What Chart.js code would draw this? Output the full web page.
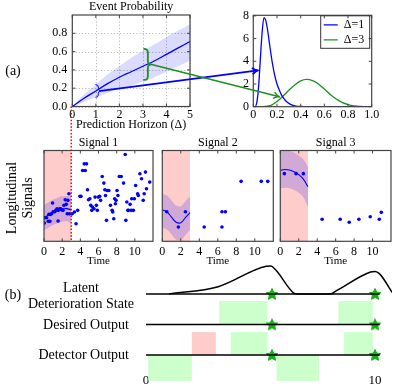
<!DOCTYPE html>
<html><head><meta charset="utf-8">
<script src="https://cdn.jsdelivr.net/npm/chart.js@4/dist/chart.umd.min.js"></script>
<style>
html,body{margin:0;padding:0;background:#fff;}
#wrap{position:relative;width:399px;height:389px;overflow:hidden;font-family:'Liberation Serif','DejaVu Serif',serif;color:#000;}
#wrap canvas{position:absolute;left:0;top:0;}
.lbl{position:absolute;white-space:nowrap;font-size:14px;line-height:15.5px;}
.c{transform:translate(-50%,-50%);text-align:center;}
.r{transform:translateY(-50%);text-align:right;}
</style></head><body>
<div id="wrap">
<canvas id="cA" width="399" height="389"></canvas>
<canvas id="cB" width="399" height="389"></canvas>
<canvas id="cS1" width="399" height="389"></canvas>
<canvas id="cS2" width="399" height="389"></canvas>
<canvas id="cS3" width="399" height="389"></canvas>
<canvas id="cT" width="399" height="389"></canvas>
<div class="lbl c" style="left:13px;top:71px;">(a)</div>
<div class="lbl c" style="left:13px;top:295px;">(b)</div>
<div class="lbl c" style="left:20px;top:198px;transform:translate(-50%,-50%) rotate(-90deg);line-height:16px;">Longitudinal<br>Signals</div>
<div class="lbl c" style="left:81px;top:295px;">Latent<br>Deterioration State</div>
<div class="lbl r" style="right:270px;top:325px;">Desired Output</div>
<div class="lbl r" style="right:270px;top:355px;">Detector Output</div>
</div>
<script>
// ---------- DATA ----------
// (a) event probability vs prediction horizon
const horizon      = [0, 0.5, 1, 1.5, 2, 2.5, 3, 3.5, 4, 4.5, 5];
const probMean     = [0, 0.09, 0.17, 0.25, 0.32, 0.38, 0.44, 0.50, 0.57, 0.64, 0.71];
const probUpper    = [0, 0.13, 0.24, 0.35, 0.44, 0.53, 0.61, 0.68, 0.76, 0.83, 0.90];
const probLower    = [0, 0.05, 0.10, 0.15, 0.19, 0.23, 0.27, 0.32, 0.38, 0.44, 0.50];
const horizonTicks = [0, 1, 2, 3, 4, 5];
const horizonTickLabels = ['0', '1', '2', '3', '4', '5'];
const probTicks    = [0, 0.2, 0.4, 0.6, 0.8];
const probTickLabels = ['0.0', '0.2', '0.4', '0.6', '0.8'];

// densities of event probability
const densX1 = [0, 0.015, 0.03, 0.045, 0.06, 0.075, 0.09, 0.105, 0.12, 0.14, 0.16, 0.18, 0.20, 0.22, 0.24, 0.26, 0.28, 0.30, 0.33, 0.36, 0.40, 0.45, 0.6, 1.0];
const densY1 = [0, 0, 0.4, 1.8, 4.3, 6.6, 7.85, 7.6, 6.8, 5.3, 3.9, 2.8, 2.0, 1.45, 1.0, 0.68, 0.45, 0.29, 0.14, 0.06, 0.02, 0, 0, 0];
const densX3 = [0, 0.05, 0.1, 0.15, 0.2, 0.25, 0.3, 0.35, 0.4, 0.45, 0.5, 0.55, 0.6, 0.65, 0.7, 0.75, 0.8, 0.85, 0.9, 0.95, 1.0];
const densY3 = [0, 0, 0.02, 0.12, 0.45, 0.92, 1.45, 1.92, 2.27, 2.4, 2.3, 2.0, 1.55, 1.08, 0.68, 0.38, 0.19, 0.08, 0.03, 0.01, 0];
const densLabels = ['\u0394=1', '\u0394=3'];
const densXTicks = [0, 0.2, 0.4, 0.6, 0.8, 1.0];
const densXTickLabels = ['0', '0.2', '0.4', '0.6', '0.8', '1.0'];
const densYTicks = [0, 2, 4, 6, 8];
const densYTickLabels = ['0', '2', '4', '6', '8'];

// braces and arrows linking the two plots
const braceHorizon = [1.0, 3.05];
const braceLow     = [0.10, 0.29];
const braceHigh    = [0.24, 0.63];
const arrowTargetX = [0.04, 0.22];
const arrowTargetY = [3.2, 0.88];

// longitudinal signals
const signalTitles = ['Signal 1', 'Signal 2', 'Signal 3'];
const timeTicks = [0, 2, 4, 6, 8, 10];
const timeTickLabels = ['0', '2', '4', '6', '8', '10'];
const observationWindow = [0, 3];
const s1Time  = [0.04,0.11,0.29,0.47,0.65,0.54,0.72,0.83,0.94,1.01,1.19,1.30,1.44,1.55,1.59,1.73,1.84,1.95,2.09,2.20,2.34,2.45,2.56,2.63,2.74,2.81,3.10,3.35,3.53,3.71,3.96,4.07,4.25,4.43,4.68,4.54,4.79,4.90,5.05,5.15,5.26,5.33,5.51,5.62,5.77,5.87,5.98,6.13,6.23,6.41,6.59,6.70,6.77,6.88,6.95,7.14,7.32,7.50,7.57,7.68,7.78,7.86,7.93,8.04,8.14,8.29,8.50,8.76,8.94,9.01,9.12,9.23,9.30,9.48,9.59,9.66,9.84,9.95,10.09,10.31,10.38,10.56,10.74,10.92,11.03,11.17,11.28,11.64];
const s1Value = [2.01,2.60,2.60,2.20,2.20,2.97,2.97,3.04,4.21,3.26,3.26,3.41,3.59,2.23,3.41,3.59,3.59,3.48,3.41,3.96,4.58,4.07,3.04,4.51,5.24,3.04,3.04,3.22,1.94,3.41,4.95,4.95,7.80,8.53,8.53,7.80,5.68,4.58,4.69,3.96,3.41,3.77,3.59,4.87,3.96,3.41,4.87,4.95,4.51,7.14,6.41,5.68,5.05,2.31,5.60,5.60,3.96,3.41,3.22,2.49,4.69,4.14,4.51,5.60,5.05,7.14,7.14,6.41,9.56,2.31,4.32,3.41,3.41,4.07,3.41,4.69,3.41,4.69,6.15,5.24,5.05,7.44,6.89,4.51,5.24,7.62,5.79,6.52];
const s2Time  = [0.48, 1.74, 2.5, 4.53, 6.45, 6.82, 6.45, 8.52, 10.7, 11.4];
const s2Value = [3.26, 1.58, 3.26, 1.58, 3.26, 3.26, 1.58, 6.6, 6.6, 6.6];
const s3Time  = [0.44, 1.7, 2.5, 4.53, 6.49, 7.47, 8.52, 9.75, 10.73, 10.95];
const s3Value = [7.45, 7.45, 7.45, 2.43, 2.43, 2.1, 2.43, 2.71, 2.43, 3.19];
const gpTime  = [0, 0.5, 1, 1.5, 2, 2.5, 3];
const s1Mean  = [2.6, 2.9, 3.2, 3.4, 3.55, 3.6, 3.45];
const s1Upper = [4.0, 4.3, 4.6, 4.8, 4.95, 5.0, 4.9];
const s1Lower = [1.2, 1.5, 1.8, 2.0, 2.15, 2.2, 2.0];
const s2Mean  = [3.45, 3.25, 2.65, 2.1, 2.05, 2.6, 3.15];
const s2Upper = [5.25, 5.05, 4.5, 3.95, 3.85, 4.4, 4.95];
const s2Lower = [1.5, 1.3, 0.75, 0.2, 0.15, 0.7, 1.25];
const s3Mean  = [7.8, 7.9, 7.85, 7.65, 7.35, 6.85, 6.0];
const s3Upper = [9.9, 10.0, 9.95, 9.75, 9.45, 9.0, 8.2];
const s3Lower = [5.8, 5.9, 5.85, 5.65, 5.35, 4.85, 3.8];

// (b) timeline
const timelineTicks = [0, 10];
const timelineTickLabels = ['0', '10'];
const timelineEnd = 10.2;
const latentTime  = [1.0, 3.15, 5.25, 5.45, 5.65, 6.45, 6.6, 8.05, 8.3, 9.8, 10.0, 10.2, 10.75];
const latentLevel = [0, 0.24, 0.91, 0.92, 0.8, 0.03, 0, 0, 0.1, 0.72, 0.74, 0.66, 0.05];
const eventTimes  = [5.5, 10.0];
const desiredAlarm   = [[3.2, 5.3], [8.4, 9.9]];
const detectorFalse  = [[2.0, 3.05]];
const detectorAlarm  = [[3.7, 5.3], [8.65, 9.9]];
const detectorQuiet  = [[0.1, 2.0], [5.7, 7.55]];

// ---------- HELPERS ----------
Chart.defaults.font.family = "'Liberation Serif','DejaVu Serif',serif";
Chart.defaults.color = '#000';
const pts = (xs, ys) => xs.map((x, i) => ({x, y: ys[i]}));
const BLUE = '#0000ff', GREEN = '#1f8f1f', FRAME = '#444';

const framePlugin = {
  id: 'frame',
  beforeDatasetsDraw(chart, args, o) {
    const {ctx, chartArea: a} = chart;
    const xs = chart.scales.x, ys = chart.scales.y;
    ctx.save();
    if (o.window) {
      const x0 = xs.getPixelForValue(o.window[0]), x1 = xs.getPixelForValue(o.window[1]);
      ctx.fillStyle = 'rgba(255,0,0,0.2)';
      ctx.fillRect(x0, a.top, x1 - x0, a.bottom - a.top);
    }
    if (o.grid) {
      ctx.strokeStyle = '#aaa'; ctx.lineWidth = 0.8; ctx.setLineDash([1.2, 2]);
      xs.ticks.forEach(t => { const p = Math.round(xs.getPixelForValue(t.value)) + 0.5;
        ctx.beginPath(); ctx.moveTo(p, a.top); ctx.lineTo(p, a.bottom); ctx.stroke(); });
      ys.ticks.forEach(t => { const p = Math.round(ys.getPixelForValue(t.value)) + 0.5;
        ctx.beginPath(); ctx.moveTo(a.left, p); ctx.lineTo(a.right, p); ctx.stroke(); });
    }
    ctx.restore();
  },
  afterDatasetsDraw(chart, args, o) {
    const {ctx, chartArea: a} = chart;
    const xs = chart.scales.x, ys = chart.scales.y;
    ctx.save();
    ctx.strokeStyle = FRAME; ctx.lineWidth = 1;
    const L = a.left, R = a.right, T = a.top, B = a.bottom;
    ctx.beginPath();
    xs.ticks.forEach(t => { const p = xs.getPixelForValue(t.value);
      ctx.moveTo(p, B); ctx.lineTo(p, B - 3); ctx.moveTo(p, T); ctx.lineTo(p, T + 3); });
    if (o.yTicks) ys.ticks.forEach(t => { const p = ys.getPixelForValue(t.value);
      ctx.moveTo(L, p); ctx.lineTo(L + 3, p); ctx.moveTo(R, p); ctx.lineTo(R - 3, p); });
    ctx.stroke();
    ctx.lineWidth = 1.2;
    ctx.strokeRect(L, T, R - L, B - T);
    ctx.restore();
  }
};

const legendBoxPlugin = {
  id: 'legendBox',
  afterLayout(chart) {
    const L = chart.legend, a = chart.chartArea;
    L.left = a.right - 51; L.top = a.top + 0.5; L.width = 49; L.height = 40;
    L.right = L.left + 49; L.bottom = L.top + 40;
  },
  afterDraw(chart) {
    const L = chart.legend, ctx = chart.ctx;
    ctx.save(); ctx.strokeStyle = '#333'; ctx.lineWidth = 1;
    ctx.strokeRect(L.left, L.top, 49, 32.5); ctx.restore();
  }
};

function fixedTicks(list) { return s => { s.ticks = list.map(v => ({value: v})); }; }
const noGrid = {display: false, drawTicks: false};
const noBorder = {display: false};
const TICK = 12;

// ---------- CHART A ----------
const chartA = new Chart(document.getElementById('cA'), {
  type: 'line',
  data: {datasets: [
    {data: pts(horizon, probUpper), borderWidth: 0, pointRadius: 0, fill: '+1', backgroundColor: 'rgba(0,0,255,0.14)', tension: 0.4},
    {data: pts(horizon, probLower), borderWidth: 0, pointRadius: 0, fill: false, tension: 0.4},
    {data: pts(horizon, probMean), borderColor: BLUE, borderWidth: 1.3, pointRadius: 0, fill: false, tension: 0.4}
  ]},
  options: {
    responsive: false, animation: false, devicePixelRatio: 1,
    layout: {padding: {left: 0, top: 0, right: 209, bottom: 256.9}},
    plugins: {legend: {display: false}, tooltip: {enabled: false},
      title: {display: true, text: 'Event Probability', font: {size: 12, weight: 'normal', lineHeight: 1.1}, padding: {top: 0, bottom: 1.8}, fullSize: false, color: '#000'},
      frame: {grid: true, yTicks: true}},
    scales: {
      x: {type: 'linear', min: 0, max: 5, afterBuildTicks: fixedTicks(horizonTicks),
        ticks: {padding: 1.5, font: {size: TICK}, callback: (v, i) => horizonTickLabels[i]},
        grid: noGrid, border: noBorder,
        title: {display: true, text: 'Prediction Horizon (\u0394)', font: {size: 12}, padding: 0},
        afterFit: s => { s.height = 25.6; }},
      y: {type: 'linear', min: 0, max: 1.0, afterBuildTicks: fixedTicks(probTicks),
        ticks: {padding: 5, font: {size: TICK}, callback: (v, i) => probTickLabels[i]},
        grid: noGrid, border: noBorder, afterFit: s => { s.width = 72.3; }}
    }
  },
  plugins: [framePlugin]
});

// ---------- CHART B ----------
const chartB = new Chart(document.getElementById('cB'), {
  type: 'line',
  data: {datasets: [
    {label: densLabels[0], data: pts(densX1, densY1), borderColor: BLUE, backgroundColor: BLUE, borderWidth: 1.3, pointRadius: 0, pointStyle: 'line', cubicInterpolationMode: 'monotone'},
    {label: densLabels[1], data: pts(densX3, densY3), borderColor: GREEN, backgroundColor: GREEN, borderWidth: 1.3, pointRadius: 0, pointStyle: 'line', cubicInterpolationMode: 'monotone'}
  ]},
  options: {
    responsive: false, animation: false, devicePixelRatio: 1,
    layout: {padding: {left: 0, top: 15.3, right: 27.3, bottom: 267.3}},
    plugins: {tooltip: {enabled: false},
      legend: {display: true, position: 'chartArea', align: 'start',
        labels: {usePointStyle: true, pointStyle: 'line', pointStyleWidth: 14, padding: 3, font: {size: 12}, color: '#000'}},
      frame: {yTicks: true}},
    scales: {
      x: {type: 'linear', min: 0, max: 1, afterBuildTicks: fixedTicks(densXTicks),
        ticks: {padding: 1.2, font: {size: TICK}, callback: (v, i) => densXTickLabels[i]},
        grid: noGrid, border: noBorder, afterFit: s => { s.height = 15; }},
      y: {type: 'linear', min: 0, max: 8.05, afterBuildTicks: fixedTicks(densYTicks),
        ticks: {padding: 4.3, font: {size: TICK}, callback: (v, i) => densYTickLabels[i]},
        grid: noGrid, border: noBorder, afterFit: s => { s.width = 253.3; }}
    }
  },
  plugins: [framePlugin, legendBoxPlugin]
});

// ---------- SIGNAL PANELS ----------
function signalChart(id, idx, left, right, times, values, mean, upper, lower) {
  return new Chart(document.getElementById(id), {
    type: 'line',
    data: {datasets: [
      {data: pts(gpTime, upper), borderWidth: 0, pointRadius: 0, fill: '+1', backgroundColor: 'rgba(0,0,255,0.18)', tension: 0.4},
      {data: pts(gpTime, lower), borderWidth: 0, pointRadius: 0, fill: false, tension: 0.4},
      {data: pts(gpTime, mean), borderColor: BLUE, borderWidth: 1.1, pointRadius: 0, fill: false, tension: 0.4},
      {type: 'scatter', data: pts(times, values), pointRadius: 1.8, pointBackgroundColor: BLUE, pointBorderWidth: 0, showLine: false}
    ]},
    options: {
      responsive: false, animation: false, devicePixelRatio: 1,
      layout: {padding: {left: left, top: 136.3, right: 399 - right, bottom: 121.7}},
      plugins: {legend: {display: false}, tooltip: {enabled: false},
        title: {display: true, text: signalTitles[idx], font: {size: 12, weight: 'normal', lineHeight: 1.1}, padding: {top: 0, bottom: 1}, fullSize: false, color: '#000'},
        frame: {window: observationWindow}},
      scales: {
        x: {type: 'linear', min: 0, max: 12, afterBuildTicks: fixedTicks(timeTicks),
          ticks: {padding: 3.6, font: {size: TICK}, callback: (v, i) => timeTickLabels[i]},
          grid: noGrid, border: noBorder,
          title: {display: true, text: 'Time', font: {size: 11}, padding: 0},
          afterFit: s => { s.height = 26; }},
        y: {type: 'linear', min: 0, max: 10, display: false}
      }
    },
    plugins: [framePlugin]
  });
}
const chartS1 = signalChart('cS1', 0, 44, 153, s1Time, s1Value, s1Mean, s1Upper, s1Lower);
const chartS2 = signalChart('cS2', 1, 162.3, 273.3, s2Time, s2Value, s2Mean, s2Upper, s2Lower);
const chartS3 = signalChart('cS3', 2, 280.3, 391, s3Time, s3Value, s3Mean, s3Upper, s3Lower);

// ---------- (b) TIMELINE ----------
function makeStar(r, color) {
  const s = Math.ceil(r * 2 + 2), c = document.createElement('canvas');
  c.width = c.height = s;
  const g = c.getContext('2d');
  g.translate(s / 2, s / 2 + 0.5);
  g.beginPath();
  for (let i = 0; i < 10; i++) {
    const rr = i % 2 ? r * 0.48 : r, ang = -Math.PI / 2 + i * Math.PI / 5;
    g.lineTo(rr * Math.cos(ang), rr * Math.sin(ang));
  }
  g.closePath(); g.fillStyle = color; g.fill();
  g.lineJoin = 'round'; g.strokeStyle = color; g.lineWidth = 1; g.stroke();
  return c;
}
const starImg = makeStar(6, '#12b012');
const ROWS = {latent: 2, desired: 1, detector: 0};

const spansPlugin = {
  id: 'spans',
  beforeDatasetsDraw(chart) {
    const {ctx} = chart, xs = chart.scales.x, ys = chart.scales.y;
    const box = (sp, y0, y1, col) => sp.forEach(([a, b]) => {
      const x0 = xs.getPixelForValue(a), x1 = xs.getPixelForValue(b);
      const p0 = ys.getPixelForValue(y0), p1 = ys.getPixelForValue(y1);
      ctx.fillStyle = col; ctx.fillRect(x0, Math.min(p0, p1), x1 - x0, Math.abs(p1 - p0));
    });
    ctx.save();
    box(desiredAlarm, ROWS.desired, ROWS.desired + 0.77, '#ccffcc');
    box(detectorFalse, ROWS.detector, ROWS.detector + 0.75, '#ffcccc');
    box(detectorAlarm, ROWS.detector, ROWS.detector + 0.75, '#ccffcc');
    box(detectorQuiet, ROWS.detector, ROWS.detector - 0.85, '#ccffcc');
    ctx.restore();
  }
};

function drawBrace(ctx, x, yTop, yBot, w) {
  const m = (yTop + yBot) / 2, h = w / 2, k = Math.min(h, (yBot - yTop) / 4);
  ctx.beginPath();
  ctx.moveTo(x, yTop);
  ctx.quadraticCurveTo(x + h, yTop, x + h, yTop + k);
  ctx.lineTo(x + h, m - k);
  ctx.quadraticCurveTo(x + h, m, x + w, m);
  ctx.quadraticCurveTo(x + h, m, x + h, m + k);
  ctx.lineTo(x + h, yBot - k);
  ctx.quadraticCurveTo(x + h, yBot, x, yBot);
  ctx.stroke();
}
function drawArrow(ctx, x0, y0, x1, y1) {
  ctx.beginPath(); ctx.moveTo(x0, y0); ctx.lineTo(x1, y1); ctx.stroke();
  const ang = Math.atan2(y1 - y0, x1 - x0), L = 6;
  ctx.beginPath();
  ctx.moveTo(x1 - L * Math.cos(ang - 0.5), y1 - L * Math.sin(ang - 0.5));
  ctx.quadraticCurveTo(x1 - 2 * Math.cos(ang), y1 - 2 * Math.sin(ang), x1, y1);
  ctx.quadraticCurveTo(x1 - 2 * Math.cos(ang), y1 - 2 * Math.sin(ang), x1 - L * Math.cos(ang + 0.5), y1 - L * Math.sin(ang + 0.5));
  ctx.stroke();
}

const overlayPlugin = {
  id: 'overlay',
  afterDraw(chart) {
    const ctx = chart.ctx;
    const ax = chartA.scales.x, ay = chartA.scales.y, bx = chartB.scales.x, by = chartB.scales.y;
    const sx = chartS1.scales.x;
    ctx.save();
    const xr = sx.getPixelForValue(observationWindow[1]);
    ctx.strokeStyle = '#ff0000'; ctx.lineWidth = 1.5; ctx.setLineDash([1.5, 1.8]);
    ctx.beginPath(); ctx.moveTo(xr, ay.getPixelForValue(0)); ctx.lineTo(xr, chartS1.chartArea.bottom); ctx.stroke();
    ctx.setLineDash([]);
    const cols = [BLUE, GREEN], widths = [1, 1.8], bw = [5, 7.5], aw = [1.7, 1.5];
    for (let i = 0; i < 2; i++) {
      const x = ax.getPixelForValue(braceHorizon[i]);
      const yT = ay.getPixelForValue(braceHigh[i]), yB = ay.getPixelForValue(braceLow[i]);
      ctx.strokeStyle = cols[i]; ctx.lineWidth = widths[i]; ctx.lineCap = 'round';
      drawBrace(ctx, x, yT, yB, bw[i]);
    }
    for (let i = 0; i < 2; i++) {
      const x = ax.getPixelForValue(braceHorizon[i]) + bw[i];
      const ym = (ay.getPixelForValue(braceHigh[i]) + ay.getPixelForValue(braceLow[i])) / 2;
      ctx.strokeStyle = cols[i]; ctx.lineWidth = aw[i];
      drawArrow(ctx, x, ym, bx.getPixelForValue(arrowTargetX[i]), by.getPixelForValue(arrowTargetY[i]));
    }
    ctx.restore();
  }
};

const lineDs = (data, extra) => Object.assign({data, borderColor: '#000', borderWidth: 1.5, pointRadius: 0, fill: false}, extra || {});
const chartT = new Chart(document.getElementById('cT'), {
  type: 'line',
  data: {datasets: [
    lineDs([{x: 0, y: ROWS.latent}, {x: timelineEnd, y: ROWS.latent}]),
    lineDs([{x: 0, y: ROWS.desired}, {x: timelineEnd, y: ROWS.desired}]),
    lineDs([{x: 0, y: ROWS.detector}, {x: timelineEnd, y: ROWS.detector}]),
    lineDs(latentTime.map((t, i) => ({x: t, y: ROWS.latent + latentLevel[i]})), {cubicInterpolationMode: 'monotone'}),
    {type: 'scatter', clip: false, pointStyle: starImg, pointRadius: 6,
      data: [].concat(...eventTimes.map(t => [ROWS.latent, ROWS.desired, ROWS.detector].map(r => ({x: t, y: r}))))}
  ]},
  options: {
    responsive: false, animation: false, devicePixelRatio: 1,
    layout: {padding: {left: 146, top: 265, right: 7, bottom: 0}},
    plugins: {legend: {display: false}, tooltip: {enabled: false}},
    scales: {
      x: {type: 'linear', min: 0, max: 10.74, afterBuildTicks: fixedTicks(timelineTicks),
        ticks: {padding: 0.2, font: {size: 13}, callback: (v, i) => timelineTickLabels[i]},
        grid: noGrid, border: noBorder, afterFit: s => { s.height = 16; }},
      y: {type: 'linear', min: -0.59, max: 2.95, display: false}
    }
  },
  plugins: [spansPlugin, overlayPlugin]
});
</script>
</body></html>
